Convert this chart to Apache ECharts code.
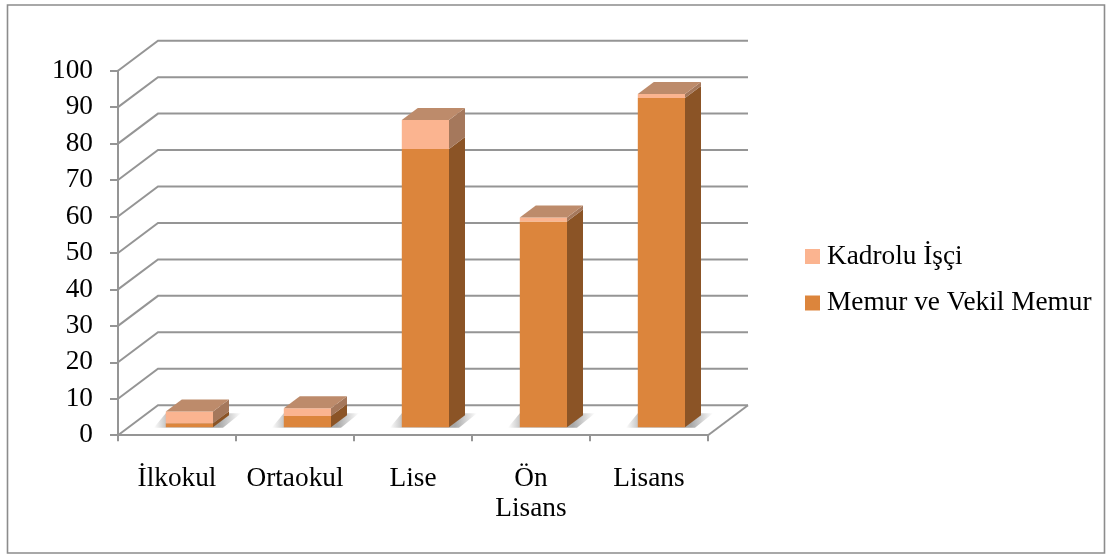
<!DOCTYPE html>
<html><head><meta charset="utf-8">
<style>html,body{margin:0;padding:0;background:#fff}#c{width:1111px;height:559px}</style>
<script src="https://cdn.jsdelivr.net/npm/echarts@6/dist/echarts.min.js"></script>
</head><body><div id="c"></div>
<script>
const categories = ['İlkokul','Ortaokul','Lise','Ön\nLisans','Lisans'];
const memur = [1.1, 3.1, 76.3, 56.4, 90.3];
const kadrolu = [3.2, 2.1, 8.0, 1.1, 1.1];
const yTicks = [0,10,20,30,40,50,60,70,80,90,100];
const FONT = '"Liberation Serif"';
const FS = 27.3;
const GRID = '#959595';
const WALL = {dx:40, dy:30};
const BAR = {dx:16, dy:12, shiftX:12.4, shiftY:8, widthRatio:0.4};
const memurColors = {front:'#dc853c', side:'#8b5426', top:'#bd8b6b'};
const kadroluColors = {front:'#fbb490', side:'#a5785c', top:'#bd8b6b'};

function wallRender(params, api){
  const cs = params.coordSys, v = api.value(1);
  const y = api.coord([0, v])[1];
  const x0 = cs.x, x1 = cs.x + cs.width;
  const style = {stroke:GRID, lineWidth:2, fill:null};
  const children = [{type:'polyline', shape:{points:[[x0,y],[x0+WALL.dx,y-WALL.dy],[x1+WALL.dx,y-WALL.dy]]}, style}];
  if (v === 0) children.push({type:'line', shape:{x1:x1,y1:y,x2:x1+WALL.dx,y2:y-WALL.dy}, style});
  return {type:'group', children};
}
function barRender(colors, isBottom, isTop){
  return function(params, api){
    const i = api.value(0), from = api.value(1), to = api.value(2);
    const cx = api.coord([i,0])[0] + BAR.shiftX;
    const w = api.size([1,0])[0] * BAR.widthRatio;
    const l = cx - w/2, r = cx + w/2;
    const yb = api.coord([i,from])[1] - BAR.shiftY;
    const yt = api.coord([i,to])[1] - BAR.shiftY;
    const d = BAR.dx, e = BAR.dy;
    const children = [];
    if (isBottom) {
      const total = 12 + w + 28;
      children.push({type:'polygon', shape:{points:[[l-12,yb+0.5],[r+10,yb+0.5],[r+28,yb-e-2],[l,yb-e-2]]},
        style:{fill:{type:'linear',x:0,y:0,x2:1,y2:0,colorStops:[
          {offset:0,color:'rgba(130,130,130,0)'},
          {offset:12/total,color:'rgba(130,130,130,0.45)'},
          {offset:(12+w+6)/total,color:'rgba(130,130,130,0.7)'},
          {offset:1,color:'rgba(130,130,130,0)'}]}}});
    }
    children.push({type:'rect', shape:{x:l,y:yt,width:w,height:yb-yt}, style:{fill:colors.front}});
    children.push({type:'polygon', shape:{points:[[r,yb],[r+d,yb-e],[r+d,yt-e],[r,yt]]}, style:{fill:colors.side}});
    if (isTop) children.push({type:'polygon', shape:{points:[[l,yt],[l+d,yt-e],[r+d,yt-e],[r,yt]]}, style:{fill:colors.top}});
    return {type:'group', children};
  };
}
const memurData = memur.map((v,i)=>[i,0,v]);
const kadroluData = kadrolu.map((v,i)=>[i,memur[i],memur[i]+v]);

const chart = echarts.init(document.getElementById('c'), null, {renderer:'canvas'});
chart.setOption({
  animation:false,
  backgroundColor:'#fff',
  graphic:[{type:'rect', z:0, shape:{x:7.5,y:5,width:1097,height:548}, style:{fill:null, stroke:'#8c8c8c', lineWidth:1.6}}],
  grid:{left:118, top:70.7, width:590, height:364.5, containLabel:false},
  legend:{left:800, top:238, orient:'vertical', itemWidth:15, itemHeight:15, itemGap:19.5, icon:'rect',
    data:['Kadrolu İşçi','Memur ve Vekil Memur'],
    textStyle:{fontFamily:FONT, fontSize:FS, color:'#000', padding:[0,0,0,2]}},
  xAxis:{type:'category', data:categories, boundaryGap:true,
    axisLine:{lineStyle:{color:GRID,width:2}},
    axisTick:{show:true,length:6,lineStyle:{color:GRID,width:2},alignWithLabel:false},
    axisLabel:{fontFamily:FONT, fontSize:FS, color:'#000', margin:29, lineHeight:30, interval:0}},
  yAxis:{type:'value', min:0, max:100, interval:10, splitLine:{show:false},
    axisLine:{show:true,lineStyle:{color:GRID,width:2}},
    axisTick:{show:true,length:8,lineStyle:{color:GRID,width:2}},
    axisLabel:{fontFamily:FONT, fontSize:FS, color:'#000', margin:25, padding:[4,0,0,0]}},
  series:[
    {type:'custom', name:'wall', z:1, silent:true, data:yTicks.map(v=>[0,v]), renderItem:wallRender},
    {type:'custom', name:'Memur ve Vekil Memur', z:3, itemStyle:{color:memurColors.front}, data:memurData, renderItem:barRender(memurColors,true,false)},
    {type:'custom', name:'Kadrolu İşçi', z:3, itemStyle:{color:kadroluColors.front}, data:kadroluData, renderItem:barRender(kadroluColors,false,true)}
  ]
});
</script></body></html>
